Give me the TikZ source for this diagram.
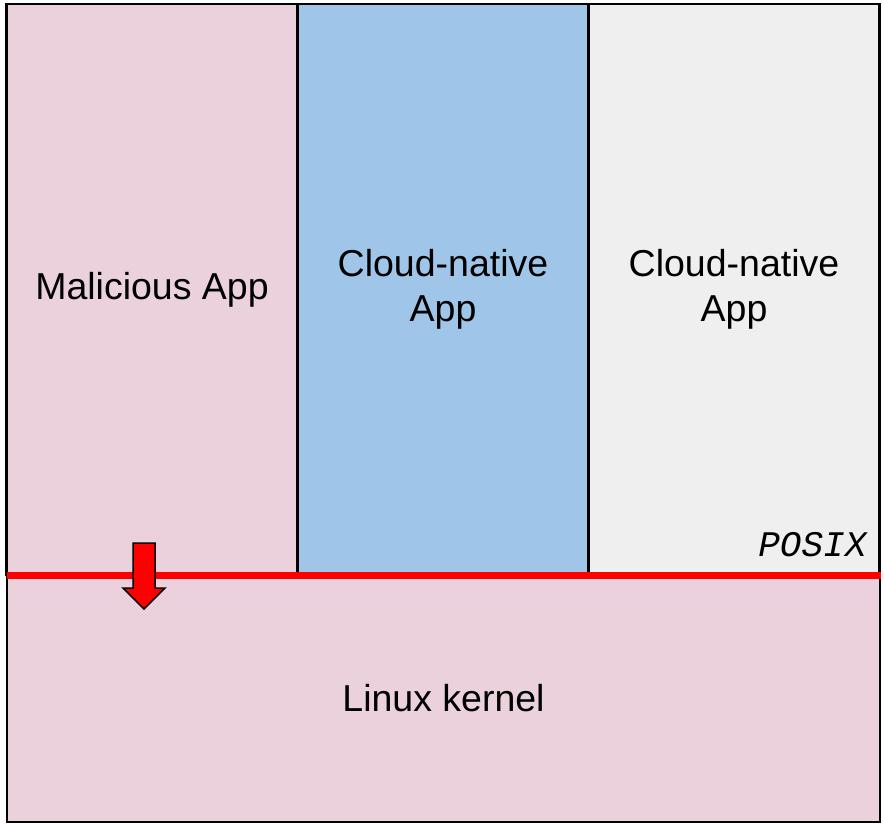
\documentclass[tikz,border=0pt]{standalone}
\usepackage{fontspec}
\setmainfont{Liberation Sans}
\newfontfamily\posixfont{Liberation Mono}
\usepackage{xcolor}
\definecolor{pink-100}{RGB}{234,209,220}
\definecolor{blue-200}{RGB}{159,197,232}
\definecolor{gray-100}{RGB}{239,239,239}
\definecolor{red-600}{RGB}{255,0,0}
\usetikzlibrary{positioning}

\begin{document}
\begin{tikzpicture}[
    x=1pt, y=-1pt,
    app box/.style={
        draw=black,
        line width=2.2pt,
        minimum width=291pt,
        minimum height=571pt,
        inner sep=0pt,
        align=center,
        font=\fontsize{37.5}{45}\selectfont
    },
    kernel box/.style={
        draw=black,
        line width=2.2pt,
        fill=pink-100,
        minimum width=873pt,
        minimum height=247pt,
        inner sep=0pt,
        font=\fontsize{37.5}{45}\selectfont
    },
    api line/.style={red-600, line width=7pt},
    posix label/.style={font=\fontsize{36}{40}\selectfont\posixfont\itshape, inner sep=0pt}
]

% Canvas
\useasboundingbox (0,0) rectangle (884,824);

% Kernel
\node[kernel box] (kernel) at (443.5,698.5) {Linux kernel};

% Apps
\node[app box, fill=pink-100] (malicious) at (152,289.5) {Malicious App};
\node[app box, fill=blue-200] (native1) at (443,289.5) {Cloud-native\\App};
\node[app box, fill=gray-100] (native2) at (734,289.5) {Cloud-native\\App};

% POSIX interface
\draw[api line] ([xshift=1pt,yshift=-1.5pt]kernel.north west) -- ([yshift=-1.5pt]kernel.north east);
\node[posix label, anchor=base east] (posix) at ([xshift=-14pt,yshift=20pt]native2.south east) {POSIX};

% Malicious syscall arrow
\coordinate (tip) at (144,609);
\draw[line width=1.5pt, fill=red-600, line join=miter]
    (133,543) -- (155,543) -- (155,588) -- (165,588) -- (tip) -- (123,588) -- (133,588) -- cycle;

\end{tikzpicture}
\end{document}
